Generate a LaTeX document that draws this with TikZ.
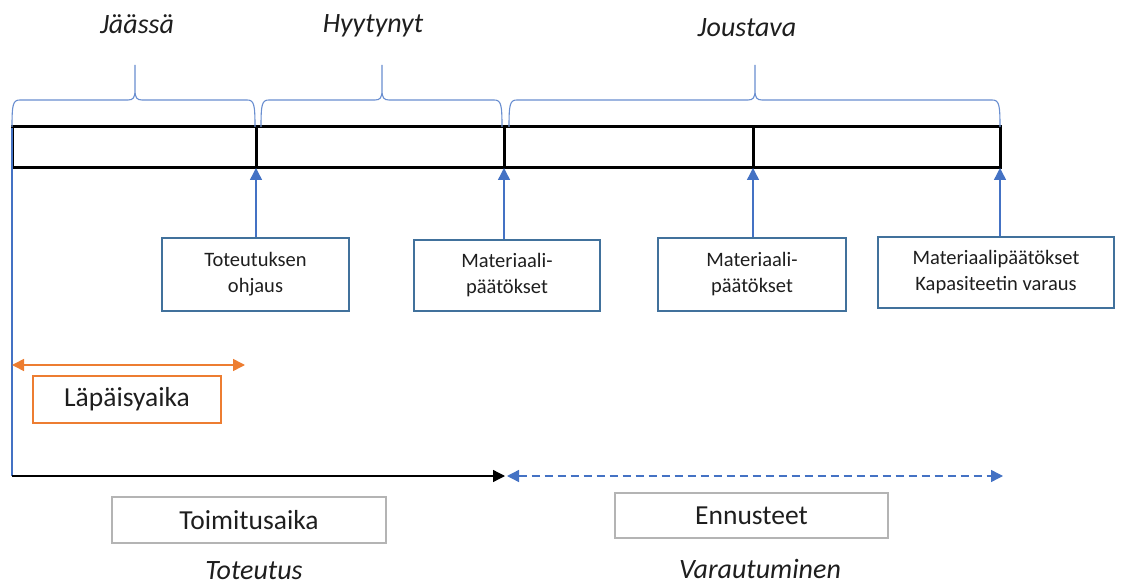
\documentclass[tikz,border=0pt]{standalone}
\usepackage{fontspec}
\setmainfont{Carlito}
\usetikzlibrary{arrows.meta}
\definecolor{arrblue}{HTML}{4472C4}
\definecolor{boxblue}{HTML}{41719C}
\definecolor{orng}{HTML}{ED7D31}
\definecolor{lgray}{HTML}{B4B4B4}
\definecolor{txt}{HTML}{1E1E1E}

% curly brace over a time segment: left end, tip, right end (x positions)
\newcommand\segbrace[3]{%
  \draw[bracestyle] (#1,127) .. controls (#1,104) and ({#1+1},100) .. ({#1+8},100)
    -- ({#2-7},100) .. controls ({#2-2},100) and (#2,98) .. (#2,90) -- (#2,65)
    (#2,90) .. controls (#2,98) and ({#2+2},100) .. ({#2+7},100)
    -- ({#3-8},100) .. controls ({#3-1},100) and (#3,104) .. (#3,127);}

\tikzset{
  bracestyle/.style={draw=arrblue!80, line width=1.1pt},
  decbox/.style={draw=boxblue, line width=1.4pt, align=center, text=txt,
    font=\fontsize{20.5}{26}\selectfont, inner sep=0pt},
  graybox/.style={draw=lgray, line width=1.2pt, text=txt,
    font=\fontsize{27.5}{30}\selectfont, inner sep=0pt},
  phase/.style={text=txt, font=\fontsize{28}{30}\selectfont\itshape, inner sep=1pt},
  uparrow/.style={draw=arrblue, line width=1.4pt, -{Triangle[length=12pt,width=12pt]}},
  barline/.style={draw=black, line width=3pt}
}

\begin{document}
\begin{tikzpicture}[x=1pt, y=-1pt]
\useasboundingbox (0,0) rectangle (1121,585);

% time bar
\coordinate (d1) at (256,168);
\coordinate (d2) at (504,168);
\coordinate (d3) at (753,168);
\coordinate (d4) at (1000,168);
\draw[barline] (12,127) rectangle (1000,168);
\draw[barline] (256,127) -- (d1);
\draw[barline] (504,127) -- (d2);
\draw[barline] (753,127) -- (d3);

% braces and phase names
\segbrace{12}{135}{255}
\segbrace{261}{382}{502}
\segbrace{509}{755}{1000}
\node[phase] (p1) at (137,24) {Jäässä};
\node[phase] (p2) at (373,26) {Hyytynyt};
\node[phase] (p3) at (747,28) {Joustava};

% decision boxes
\node[decbox, minimum width=187pt, minimum height=73pt] (b1) at (255.5,274.5) {Toteutuksen\\ohjaus};
\node[decbox, minimum width=186pt, minimum height=71pt] (b2) at (507,275.5) {Materiaali-\\päätökset};
\node[decbox, minimum width=188pt, minimum height=73pt] (b3) at (752,274.5) {Materiaali-\\päätökset};
\node[decbox, minimum width=236pt, minimum height=71pt] (b4) at (996,272.5) {Materiaalipäätökset\\Kapasiteetin varaus};
\draw[uparrow] (b1.north -| d1) -- (d1);
\draw[uparrow] (b2.north -| d2) -- (d2);
\draw[uparrow] (b3.north -| d3) -- (d3);
\draw[uparrow] (b4.north -| d4) -- (d4);

% start line
\coordinate (s0) at (12,476);
\draw[draw=arrblue, line width=1.1pt] (12,128) -- (s0);

% throughput time
\coordinate (o1) at (12,365);
\coordinate (o2) at (245,365);
\draw[draw=orng, line width=1.6pt, {Triangle[length=12pt,width=12pt]}-{Triangle[length=12pt,width=12pt]}] (o1) -- (o2);
\node[graybox, draw=orng, minimum width=188pt, minimum height=47pt] (lp) at (127,399.5) {Läpäisyaika};

% delivery time and forecasts
\coordinate (m) at (505,476);
\coordinate (m2) at (507,476);
\coordinate (e) at (1003,476);
\draw[draw=black, line width=1.3pt, -{Triangle[length=12pt,width=12pt]}] (s0) -- (m);
\draw[draw=arrblue, line width=1.4pt, dash pattern=on 8pt off 5pt,
  {Triangle[length=12pt,width=12pt]}-{Triangle[length=12pt,width=12pt]}] (m2) -- (e);
\node[graybox, minimum width=274pt, minimum height=46pt] (ta) at (249,520) {Toimitusaika};
\node[graybox, minimum width=273pt, minimum height=45pt] (en) at (751.5,515.5) {Ennusteet};
\node[phase] (t1) at (254,571) {Toteutus};
\node[phase] (t2) at (760,569) {Varautuminen};
\end{tikzpicture}
\end{document}
